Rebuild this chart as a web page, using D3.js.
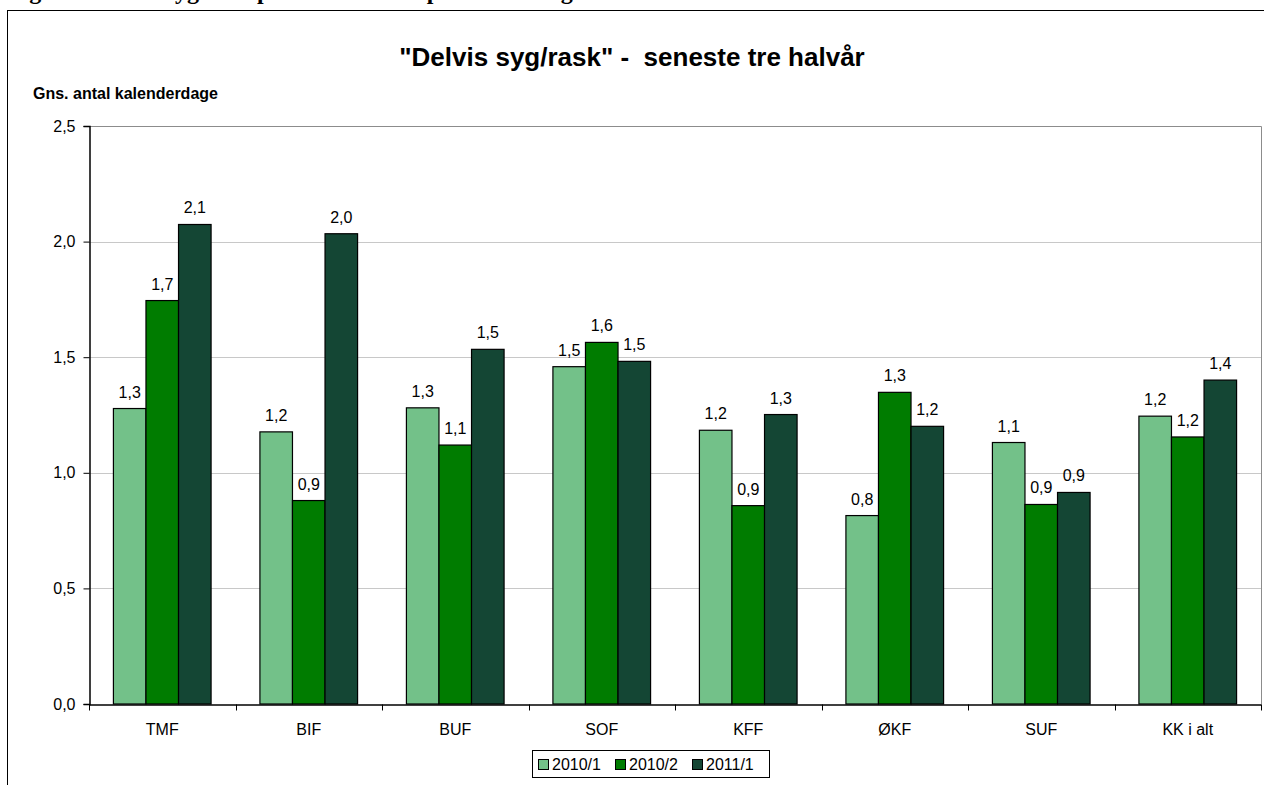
<!DOCTYPE html>
<html><head><meta charset="utf-8">
<script src="https://cdn.jsdelivr.net/npm/d3@7"></script>
<style>body{margin:0;background:#fff;overflow:hidden}svg{display:block}</style>
</head><body>
<svg id="c" width="1264" height="785"></svg>
<script>
const categories = ["TMF","BIF","BUF","SOF","KFF","ØKF","SUF","KK i alt"];
const seriesNames = ["2010/1","2010/2","2011/1"];
const s2010_1 = [1.278,1.177,1.281,1.459,1.184,0.815,1.131,1.245];
const s2010_2 = [1.745,0.880,1.120,1.564,0.858,1.348,0.863,1.155];
const s2011_1 = [2.074,2.034,1.534,1.482,1.252,1.201,0.915,1.401];
const yTicks = [0,0.5,1.0,1.5,2.0,2.5];
const colors = ["#73c189","#007c00","#144634"];
const title = "\"Delvis syg/rask\" -  seneste tre halvår";
const yTitle = "Gns. antal kalenderdage";
const figCaption = "Figur 5: Delvis syg/rask pr. ansat fordelt på forvaltninger";

const series = [s2010_1,s2010_2,s2011_1];
const svg = d3.select("#c");
const font = "'Liberation Sans', Arial, sans-serif";
const fmt = v => d3.format(".1f")(v).replace(".", ",");

// clipped caption above chart frame (only descenders visible, as in the source page)
svg.append("text").attr("x",8).attr("y",-1).attr("font-family","'Liberation Serif','Times New Roman',serif")
  .attr("font-weight","bold").attr("font-size",24).text(figCaption);

// outer frame
svg.append("rect").attr("x",7.5).attr("y",10.5).attr("width",1300).attr("height",900)
  .attr("fill","#fff").attr("stroke","#000").attr("stroke-width",1);

const L=89, R=1261, T=126, B=704;
const x0 = d3.scaleBand().domain(categories).range([L,R]).paddingInner(0).paddingOuter(0);
const x1 = d3.scaleBand().domain(seriesNames).range([0,x0.bandwidth()]).paddingInner(0).paddingOuter(0.75);
const y = d3.scaleLinear().domain([0,2.5]).range([B,T]);

// gridlines
svg.append("g").selectAll("line").data(yTicks.filter(t=>t>0 && t<2.5)).join("line")
  .attr("x1",L).attr("x2",R).attr("y1",d=>Math.round(y(d))+0.5).attr("y2",d=>Math.round(y(d))+0.5)
  .attr("stroke","#c8c8c8").attr("stroke-width",1);
// plot border top/right
svg.append("path").attr("d",`M${L},${Math.round(y(2.5))+0.5}H${R+0.5}V${B}`).attr("fill","none").attr("stroke","#8c8c8c");

// bars
const g = svg.append("g");
categories.forEach((c,i)=>{
  seriesNames.forEach((s,j)=>{
    const v = series[j][i];
    g.append("rect").attr("x",x0(c)+x1(s)).attr("y",y(v)).attr("width",x1.bandwidth()).attr("height",B-y(v))
      .attr("fill",colors[j]).attr("stroke","#000").attr("stroke-width",1.2);
    g.append("text").attr("x",x0(c)+x1(s)+x1.bandwidth()/2).attr("y",y(v)-11)
      .attr("text-anchor","middle").attr("font-family",font).attr("font-size",16).attr("fill","#000").text(fmt(v));
  });
});

// y axis
const ya = svg.append("g").attr("transform",`translate(${L+0.5},0)`)
  .call(d3.axisLeft(y).tickValues(yTicks).tickSize(6).tickPadding(8).tickFormat(fmt));
ya.select(".domain").attr("stroke","#000").attr("stroke-width",1.5);
ya.selectAll(".tick line").attr("stroke","#000");
ya.selectAll("text").attr("font-family",font).attr("font-size",16).attr("fill","#000");

// x axis
const xa = svg.append("g").attr("transform",`translate(0,${B+0.5})`)
  .call(d3.axisBottom(x0).tickSize(0).tickPadding(19));
xa.select(".domain").attr("stroke","#000").attr("stroke-width",1.5);
xa.selectAll("text").attr("font-family",font).attr("font-size",16).attr("fill","#000");
const bounds = categories.map(c=>x0(c)).concat([R]);
xa.selectAll(".bt").data(bounds).join("line").attr("class","bt")
  .attr("x1",d=>Math.round(d)+0.5).attr("x2",d=>Math.round(d)+0.5).attr("y1",0).attr("y2",6).attr("stroke","#000");

// titles
svg.append("text").attr("x",632).attr("y",66).attr("text-anchor","middle").attr("font-family",font)
  .attr("font-weight","bold").attr("font-size",26).style("white-space","pre").attr("xml:space","preserve").text(title);
svg.append("text").attr("x",33).attr("y",99).attr("font-family",font)
  .attr("font-weight","bold").attr("font-size",16).text(yTitle);

// legend
const lg = svg.append("g");
lg.append("rect").attr("x",532.5).attr("y",750.5).attr("width",237).attr("height",27).attr("fill","#fff").attr("stroke","#000");
const lx = [538,615,692];
seriesNames.forEach((s,j)=>{
  lg.append("rect").attr("x",lx[j]+0.5).attr("y",759.5).attr("width",10).attr("height",10).attr("fill",colors[j]).attr("stroke","#000");
  lg.append("text").attr("x",lx[j]+14).attr("y",770).attr("font-family",font).attr("font-size",16).text(s);
});
</script>
</body></html>
